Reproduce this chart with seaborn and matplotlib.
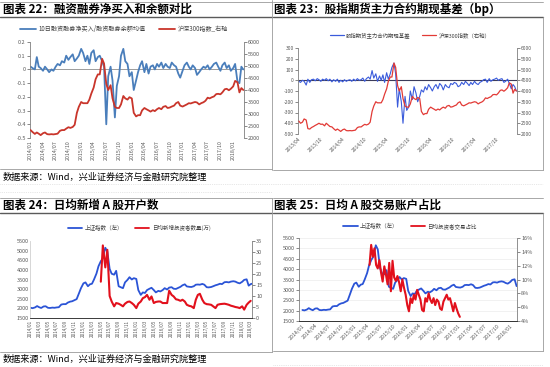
import matplotlib
matplotlib.use("Agg")
import matplotlib.pyplot as plt
import matplotlib.dates as mdates
from matplotlib.lines import Line2D
from matplotlib.ticker import PercentFormatter
import pandas as pd
import seaborn as sns

W, H = 550, 367

# ---- data (semi-monthly readings) ----
# HS300 index, 2013/04 - 2018/03
hs300 = [2600, 2500, 2550, 2700, 2650, 2250, 2230, 2300, 2350, 2400, 2450, 2500,
         2450, 2460, 2380, 2500, 2420, 2350,
         2330, 2250, 2170, 2230, 2180, 2120, 2200, 2230, 2160, 2150, 2160, 2150,
         2165, 2180, 2300, 2330, 2330, 2390, 2450, 2420, 2460, 2550, 3050, 3300,
         3500, 3450, 3450, 3450, 3600, 3850, 4100, 4450, 4650, 4650, 5300, 5100,
         4250, 4000, 4200, 3650, 3300, 3250, 3250, 3400, 3750, 3650, 3600, 3700,
         3650, 3050, 2900, 2950, 2950, 3150, 3250, 3200, 3150, 3100, 3160, 3120,
         3200, 3250, 3200, 3300, 3330, 3250, 3270, 3310, 3350, 3450, 3500, 3350,
         3310, 3350, 3400, 3450, 3440, 3470, 3500, 3480, 3400, 3450, 3490, 3550,
         3680, 3650, 3700, 3730, 3830, 3840, 3820, 3900, 4030, 4050, 3990, 4050,
         4150, 4380, 4320, 3900, 4080, 4000]

# futures main contract basis (bp), 2013/04 - 2018/03
basis = [-10, -20, 0, -10, -45, 10, -20, 5, 10, -5, 15, 5, -10, 10, 0, 15, -5, 10,
         -15, 5, -10, 10, -20, 0, -15, 5, -10, 0, 5, -10, 10, -5, 15, 0, 5, 20,
         -10, 15, 30, 10, 90, 20,
         60, -10, 40, 0, 50, -20, 70, 10, 60, 120, 160, 60, -250, -80, -200, -400,
         -150, -280, -250, -100, -180, -60, -120, -200,
         -150, -90, -110, -60, -90, -40, -70, -100, -60, -40, -80, -30, -50, -90,
         -40, -60, -70, -30, -40, -20, -30, -60, -50, -20,
         -40, -10, -30, -50, -20, -40, -10, -30, -40, -20, -10, 5, 10, -20, 15, -10,
         5, 10, 20, 0, 10, 15, -20, -10,
         10, -30, -80, -40, -60, -100]

# 10-day margin net buying / margin balance, 2014/01 - 2018/03
margin_ratio = [0.02, 0.01, 0.00, 0.09, 0.02, 0.01, -0.01, 0.02, 0.00, -0.02, 0.00, -0.01,
                0.02, 0.04, 0.03, 0.06, 0.05, 0.10, 0.07, 0.09, 0.11, 0.06, 0.08, 0.10,
                0.15, 0.12, 0.06, 0.10, 0.04, 0.12, 0.14, 0.06, 0.09, 0.10, 0.06, 0.02,
                -0.40, -0.05, 0.02, -0.08, -0.35, -0.12, -0.05, 0.10, 0.15, 0.06, 0.04, -0.05,
                -0.02, -0.15, -0.08, -0.02, 0.03, 0.06, -0.02, 0.04, -0.03, 0.02, 0.03, 0.00,
                0.04, 0.02, 0.05, 0.01, 0.04, 0.02, 0.01, 0.05, 0.03, 0.02, -0.03, -0.06,
                -0.01, 0.03, 0.05, 0.02, 0.00, 0.03, 0.01, -0.04, -0.02, 0.00, 0.02, 0.01,
                0.03, 0.00, 0.02, 0.04, 0.05, 0.02, -0.01, 0.03, 0.05, 0.01, 0.03, -0.01,
                0.01, 0.04, -0.09, -0.10, 0.02, 0.00]

# Shanghai composite, 2014/01 - 2018/03
sh_index = [2030, 2010, 2050, 2120, 2060, 2020, 2100, 2110, 2030, 2020, 2040, 2030,
            2050, 2060, 2200, 2220, 2220, 2300, 2350, 2370, 2430, 2480, 2780, 3050,
            3300, 3350, 3150, 3250, 3280, 3500, 3810, 4190, 4450, 4600, 5150, 4950,
            4050, 3800, 3750, 3950, 3150, 3100, 3050, 3350, 3480, 3620, 3500, 3570,
            3530, 2950, 2700, 2830, 2800, 2950, 3020, 3070, 2950, 2830, 2910, 2880,
            2950, 3050, 2980, 3080, 3100, 3020, 3010, 3060, 3120, 3200, 3250, 3140,
            3120, 3110, 3150, 3230, 3240, 3230, 3270, 3230, 3100, 3090, 3110, 3150,
            3200, 3230, 3280, 3260, 3360, 3370, 3350, 3390, 3410, 3390, 3330, 3300,
            3380, 3480, 3510, 3180, 3260, 3290]

# daily new investors (10k), from 2015/05
new_investors = [16.5, 33, 23, 31, 10, 7.5, 5.3, 6.8, 6.5, 6, 5.3, 6.5, 7.3, 7.5, 6.8, 6,
                 4.5, 6.5, 7.5, 9, 9.5, 10.5, 8.3, 9.8, 6.8, 7.3, 7.5, 7.5, 6.8, 6.8, 6.8,
                 12.4, 10.5, 9.8, 8.5, 8.3, 7.8, 8.3, 7.5, 6, 5.5, 5.3, 4.5, 8.3, 10.5, 11,
                 8.3, 6.8, 6.3, 6.2, 6, 5.3, 4.5, 6, 6.3, 6.4, 6.5, 6.3, 6, 5.6, 5.3, 5,
                 4.8, 4.5, 5.3, 3.8, 6, 7, 7.8]

# daily share of accounts trading (%), 2015/04 - 2017/01
trade_share = [12.1, 15, 13.3, 14.5, 12.1, 11.6, 12.8, 11, 9.7, 11.9, 10.7, 9.3, 12.4, 8.3,
               12.7, 10.3, 9.8, 10.5, 9.6, 8.3, 10, 8.8, 7.8, 6.3, 5.4, 7.3, 6.6, 7.8, 7.1,
               8.5, 7.8, 7.1, 5.6, 5.4, 7.3, 6.8, 8, 7.1, 6.6, 7.3, 6.3, 7.1, 6.8, 5.8, 5.6,
               6.8, 7.3, 7.8, 7.1, 7.3, 6.4, 5.4, 6.6, 5.8, 5.1, 4.6]

dates_13 = pd.date_range("2013-04-01", periods=len(hs300), freq="SMS")
dates_14 = pd.date_range("2014-01-01", periods=len(sh_index), freq="SMS")
dates_inv = pd.date_range("2015-05-01", periods=len(new_investors), freq="SMS")
dates_share = pd.date_range("2015-04-18", "2017-01-12", periods=len(trade_share))

GRAY = "#595959"
SOURCE = "数据来源：Wind，兴业证券经济与金融研究院整理"


def px_rect(x0, y0, x1, y1):
    return [x0 / W, 1 - y1 / H, (x1 - x0) / W, (y1 - y0) / H]


def fig_line(fig, xs, ys, color="#9a9a9a", lw=0.6, ls="-"):
    fig.add_artist(Line2D([x / W for x in xs], [1 - y / H for y in ys],
                          transform=fig.transFigure, color=color, lw=lw, ls=ls))


def fig_text(fig, x, y, s, size, weight="normal"):
    fig.text(x / W, 1 - y / H, s, fontsize=size, fontweight=weight, color="black",
             ha="left", va="center")


def fig_legend(fig, cx, cy, colors, labels, lw, size=4.3):
    handles = [Line2D([], [], color=c, lw=lw) for c in colors]
    fig.legend(handles, labels, loc="center", bbox_to_anchor=(cx / W, 1 - cy / H), ncol=2,
               frameon=False, fontsize=size, handlelength=2.6, handletextpad=0.4,
               columnspacing=2.2, borderpad=0, labelcolor="#404040")


def style_axes(ax, ax2, show_bottom):
    for a in (ax, ax2):
        a.set_facecolor("none")
        a.spines["top"].set_visible(False)
        a.spines["bottom"].set_visible(show_bottom)
        a.set_xlabel("")
        a.set_ylabel("")
        a.tick_params(axis="y", labelsize=4, colors=GRAY, length=2, width=0.5, pad=1)
        a.tick_params(axis="x", labelsize=3.8, colors=GRAY, length=0, pad=1.5)
    ax.spines["right"].set_visible(False)
    ax2.spines["left"].set_visible(False)
    ax.spines["left"].set_color("#7f7f7f")
    ax2.spines["right"].set_color("#7f7f7f")
    ax.spines["bottom"].set_color("#bfbfbf")
    for s in ("left", "right", "bottom"):
        ax.spines[s].set_linewidth(0.6)
        ax2.spines[s].set_linewidth(0.6)


def date_axis(ax, months, rotation):
    ax.xaxis.set_major_locator(mdates.MonthLocator(bymonth=months))
    ax.xaxis.set_major_formatter(mdates.DateFormatter("%Y/%m"))
    for lab in ax.get_xticklabels():
        lab.set_rotation(rotation)
        if rotation == 45:
            lab.set_ha("right")
            lab.set_rotation_mode("anchor")


sns.set_theme(style="white")
plt.rcParams["font.family"] = ["Noto Sans CJK SC", "DejaVu Sans"]
plt.rcParams["axes.unicode_minus"] = False

fig = plt.figure(figsize=(W / 100, H / 100), dpi=100)
fig.patch.set_facecolor("white")

# ---- frames and titles ----
for x0, x1 in ((0, 272), (273, 543)):
    fig_line(fig, [x0, x1], [1.5, 1.5])
    fig_line(fig, [x0, x1], [17, 17], color="#5a5a5a", lw=1.0)
    fig_line(fig, [x0, x1], [198, 198])
    fig_line(fig, [x0, x1], [213, 213], color="#5a5a5a", lw=1.0)
fig_line(fig, [272, 272], [0, 170])
fig_line(fig, [543, 543], [17, 170])
fig_line(fig, [272, 272], [198, 352])
fig_line(fig, [543, 543], [213, 351])
fig_line(fig, [0, 272], [169, 169])
fig_line(fig, [273, 543], [170, 170])
fig_line(fig, [0, 272], [352, 352])
fig_line(fig, [273, 543], [351, 351])
fig_line(fig, [0, 543], [184, 184], color="#d0d0d0", lw=0.5, ls=":")
fig_line(fig, [0, 272], [192, 192], color="#d0d0d0", lw=0.5, ls=":")
fig_line(fig, [273, 543], [365, 365], color="#d0d0d0", lw=0.5, ls=":")

fig_text(fig, 3, 9.5, "图表 22：融资融券净买入和余额对比", 8.3, "bold")
fig_text(fig, 274, 9.5, "图表 23：股指期货主力合约期现基差（bp）", 8.3, "bold")
fig_text(fig, 3, 205.5, "图表 24：日均新增 A 股开户数", 8.3, "bold")
fig_text(fig, 274, 205.5, "图表 25：日均 A 股交易账户占比", 8.3, "bold")
fig_text(fig, 3, 177, SOURCE, 6.6)
fig_text(fig, 3, 359, SOURCE, 6.6)

# ---- panel 22 ----
c_blue1, c_red1 = "#4A7EBB", "#C9352B"
ax = fig.add_axes(px_rect(30, 42, 244, 138))
ax2 = ax.twinx()
ax.axhline(0, color="#8c8c8c", lw=0.6)
sns.lineplot(x=dates_14, y=margin_ratio, ax=ax, color=c_blue1, linewidth=1.3, legend=False)
sns.lineplot(x=dates_14, y=hs300[18:], ax=ax2, color=c_red1, linewidth=1.3, legend=False)
ax.set_ylim(-0.5, 0.2)
ax.set_yticks([0.2, 0.1, 0, -0.1, -0.2, -0.3, -0.4, -0.5])
ax.set_yticklabels(["0.2", "0.1", "0", "-0.1", "-0.2", "-0.3", "-0.4", "-0.5"])
ax2.set_ylim(2000, 6000)
ax2.set_yticks(range(2000, 6001, 500))
ax.set_xlim(pd.Timestamp("2013-12-28"), pd.Timestamp("2018-03-20"))
style_axes(ax, ax2, False)
date_axis(ax, [1, 4, 7, 10], 90)
fig_legend(fig, 124, 29, [c_blue1, c_red1], ["10日融资融券净买入/融资融券余额均值", "沪深300指数_右轴"], 1.3, 4.4)

# ---- panel 23 ----
c_blue2, c_red2 = "#3A5BDB", "#E23A36"
ax = fig.add_axes(px_rect(298, 48, 517, 134))
ax2 = ax.twinx()
ax.axhline(0, color="#3c3c5a", lw=0.8)
sns.lineplot(x=dates_13, y=basis, ax=ax, color=c_blue2, linewidth=0.8, legend=False)
sns.lineplot(x=dates_13, y=hs300, ax=ax2, color=c_red2, linewidth=0.9, legend=False)
ax.set_ylim(-500, 300)
ax.set_yticks(range(-500, 301, 100))
ax2.set_ylim(2000, 6000)
ax2.set_yticks(range(2000, 6001, 500))
ax.set_xlim(pd.Timestamp("2013-03-25"), pd.Timestamp("2018-03-20"))
style_axes(ax, ax2, False)
ax.tick_params(axis="y", labelsize=3.6)
ax2.tick_params(axis="y", labelsize=3.6)
ax.tick_params(axis="x", labelsize=3.6)
date_axis(ax, [4, 10], 45)
fig_legend(fig, 410, 35, [c_blue2, c_red2], ["股指期货主力合约期现基差", "沪深300指数（右轴）"], 0.9, 3.9)

# ---- panel 24 ----
c_blue3, c_red3 = "#2B54D6", "#E2101C"
ax = fig.add_axes(px_rect(30, 241, 252, 318))
ax2 = ax.twinx()
sns.lineplot(x=dates_14, y=sh_index, ax=ax, color=c_blue3, linewidth=1.3, legend=False)
sns.lineplot(x=dates_inv, y=new_investors, ax=ax2, color=c_red3, linewidth=1.5, legend=False)
ax.set_ylim(1500, 5500)
ax.set_yticks(range(1500, 5501, 500))
ax2.set_ylim(0, 35)
ax2.set_yticks(range(0, 36, 5))
ax.set_xlim(pd.Timestamp("2013-12-28"), pd.Timestamp("2018-03-10"))
style_axes(ax, ax2, True)
ax.spines["left"].set_color("#d0d0d0")
ax.tick_params(axis="y", length=0)
ax.tick_params(axis="x", labelsize=3.3)
date_axis(ax, [1, 3, 5, 7, 9, 11], 90)
fig_legend(fig, 139, 228, [c_blue3, c_red3], ["上证指数（左）", "日均新增投资者数量(万)"], 1.3, 4.0)

# ---- panel 25 ----
ax = fig.add_axes(px_rect(299, 238, 517, 321))
ax2 = ax.twinx()
sns.lineplot(x=dates_14, y=sh_index, ax=ax, color=c_blue3, linewidth=1.3, legend=False)
sns.lineplot(x=dates_share, y=trade_share, ax=ax2, color=c_red3, linewidth=1.5, legend=False)
ax.set_ylim(1500, 5500)
ax.set_yticks(range(1500, 5501, 500))
ax.grid(axis="y", color="#ececec", lw=0.5)
ax2.set_ylim(4, 16)
ax2.set_yticks(range(4, 17, 2))
ax2.yaxis.set_major_formatter(PercentFormatter(xmax=100, decimals=0))
ax.set_xlim(pd.Timestamp("2013-12-08"), pd.Timestamp("2018-02-18"))
style_axes(ax, ax2, True)
ax.spines["bottom"].set_color("#7f7f7f")
ax.tick_params(axis="x", labelsize=3.8)
date_axis(ax, [1, 4, 7, 10], 45)
fig_legend(fig, 410, 226, [c_blue3, c_red3], ["上证指数（左）", "日均投资者交易占比"], 1.3, 4.0)

fig.savefig("out.png", dpi=100, facecolor="white")
